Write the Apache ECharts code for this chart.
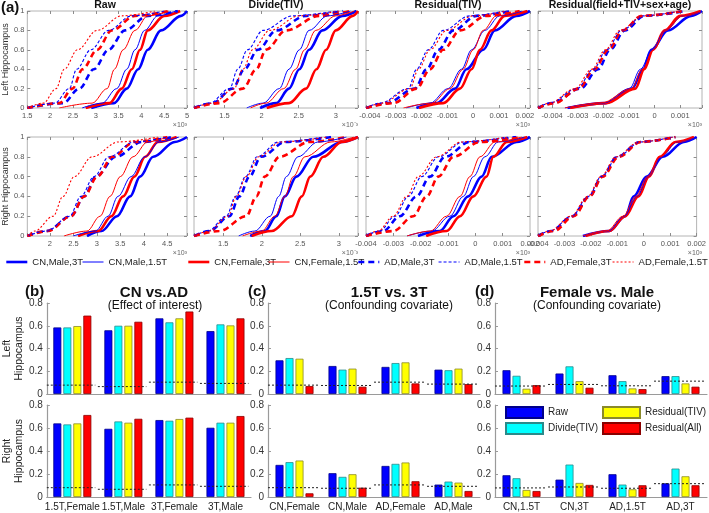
<!DOCTYPE html>
<html><head><meta charset="utf-8">
<script src="https://cdn.jsdelivr.net/npm/echarts@6/dist/echarts.min.js"></script>
<style>html,body{margin:0;padding:0;background:#fff}#c{width:709px;height:513px}</style>
</head><body><div id="c"></div>
<script>
// ---------- CDF curves: x value read at each cumulative level ----------
const cdfLevels = [0, 0.05, 0.2, 0.4, 0.6, 0.8, 0.95, 1];
const groupNames = ['CN,Male,3T','CN,Male,1.5T','CN,Female,3T','CN,Female,1.5T','AD,Male,3T','AD,Male,1.5T','AD,Female,3T','AD,Female,1.5T'];

const rawLeft = [
  [2.9, 3.4, 3.68, 3.93, 4.14, 4.43, 4.87, 5.0],
  [2.7, 3.14, 3.46, 3.68, 3.86, 4.07, 4.36, 4.75],
  [2.78, 3.3, 3.57, 3.79, 3.97, 4.14, 4.5, 4.85],
  [2.2, 2.92, 3.25, 3.41, 3.6, 3.86, 4.14, 4.6],
  [1.5, 2.28, 2.64, 2.96, 3.28, 3.64, 4.14, 4.8],
  [1.5, 2.1, 2.42, 2.58, 2.89, 3.28, 3.79, 4.5],
  [1.5, 2.2, 2.49, 2.71, 3.03, 3.35, 3.86, 4.6],
  [1.5, 1.85, 2.13, 2.31, 2.6, 3.03, 3.57, 4.3]
];
const divLeft = [
  [1.98, 2.2, 2.37, 2.51, 2.64, 2.82, 3.09, 3.28],
  [1.8, 2.02, 2.24, 2.37, 2.51, 2.64, 2.89, 3.2],
  [2.07, 2.37, 2.6, 2.74, 2.87, 3.0, 3.23, 3.3],
  [1.85, 2.06, 2.3, 2.46, 2.58, 2.73, 3.0, 3.25],
  [1.09, 1.34, 1.61, 1.77, 1.95, 2.2, 2.6, 3.1],
  [1.09, 1.3, 1.57, 1.68, 1.81, 2.02, 2.42, 3.0],
  [1.09, 1.43, 1.75, 1.93, 2.06, 2.33, 2.78, 3.2],
  [1.09, 1.34, 1.63, 1.75, 1.88, 2.11, 2.51, 3.05]
];
const resTivLeft = [
  [-0.0022, -0.00142, -0.0007, -0.00026, 0.00039, 0.00084, 0.00167, 0.0022],
  [-0.0026, -0.00167, -0.00097, -0.00045, -0.00006, 0.00045, 0.00103, 0.0019],
  [-0.0021, -0.00116, -0.00051, -0.00006, 0.00026, 0.00071, 0.00122, 0.0021],
  [-0.0027, -0.0016, -0.0009, -0.00039, 0, 0.00039, 0.0009, 0.0018],
  [-0.00415, -0.00335, -0.00226, -0.0018, -0.00135, -0.00077, 0.00013, 0.0015],
  [-0.00415, -0.0036, -0.00251, -0.00219, -0.00174, -0.00116, -0.00013, 0.0012],
  [-0.00415, -0.00309, -0.00219, -0.00167, -0.00116, -0.00051, 0.00052, 0.0018],
  [-0.00415, -0.00353, -0.00245, -0.00212, -0.00167, -0.00103, 0, 0.0013]
];
const resAllLeft = [
  [-0.0034, -0.0019, -0.00088, -0.00045, -0.00013, 0.00052, 0.00143, 0.00185],
  [-0.0035, -0.002, -0.00098, -0.00055, -0.0001, 0.00042, 0.0011, 0.00185],
  [-0.0033, -0.0019, -0.00075, -0.0004, -0.00006, 0.00039, 0.001, 0.0018],
  [-0.0035, -0.0021, -0.0009, -0.00048, -0.00003, 0.00042, 0.0011, 0.0018],
  [-0.00455, -0.004, -0.0029, -0.0022, -0.00174, -0.00116, -0.0004, 0.0012],
  [-0.00455, -0.0041, -0.00303, -0.00239, -0.00187, -0.00129, -0.00045, 0.001],
  [-0.00455, -0.0039, -0.00296, -0.00235, -0.0018, -0.00125, -0.0005, 0.0011],
  [-0.00455, -0.0041, -0.0031, -0.00245, -0.00192, -0.00135, -0.00045, 0.001]
];
const rawRight = [
  [2.79, 3.1, 3.43, 3.71, 3.92, 4.2, 4.66, 4.92],
  [2.5, 2.97, 3.24, 3.45, 3.73, 4.02, 4.33, 4.75],
  [2.6, 3.03, 3.31, 3.56, 3.8, 4.03, 4.3, 4.7],
  [2.3, 2.79, 3.07, 3.28, 3.5, 3.77, 4.08, 4.5],
  [1.52, 1.93, 2.45, 2.73, 2.98, 3.4, 3.96, 4.6],
  [1.52, 1.93, 2.42, 2.66, 2.94, 3.26, 3.8, 4.5],
  [1.52, 1.96, 2.45, 2.73, 3.01, 3.33, 3.8, 4.5],
  [1.52, 1.68, 2.07, 2.28, 2.52, 2.9, 3.46, 4.3]
];
const divRight = [
  [1.85, 2.04, 2.19, 2.3, 2.45, 2.67, 3.04, 3.25],
  [1.7, 1.91, 2.11, 2.22, 2.32, 2.47, 2.73, 3.1],
  [1.87, 2.13, 2.39, 2.52, 2.63, 2.8, 3.04, 3.25],
  [1.75, 2.0, 2.17, 2.3, 2.41, 2.56, 2.9, 3.2],
  [1.12, 1.32, 1.58, 1.71, 1.84, 1.99, 2.31, 2.9],
  [1.12, 1.3, 1.54, 1.66, 1.79, 1.94, 2.22, 2.8],
  [1.12, 1.45, 1.8, 1.93, 2.04, 2.23, 2.62, 3.1],
  [1.12, 1.32, 1.56, 1.67, 1.8, 1.96, 2.25, 2.85]
];
const resTivRight = [
  [-0.0021, -0.0013, -0.0008, -0.00026, 0.00023, 0.0006, 0.00151, 0.002],
  [-0.0025, -0.0016, -0.00093, -0.00044, -0.00007, 0.00035, 0.00084, 0.0018],
  [-0.0018, -0.00105, -0.00056, -0.00007, 0.00041, 0.00066, 0.00115, 0.0019],
  [-0.0025, -0.00165, -0.00105, -0.00056, -0.0002, 0.00017, 0.00072, 0.0017],
  [-0.004, -0.00337, -0.00276, -0.00215, -0.00166, -0.00111, -0.0002, 0.0015],
  [-0.004, -0.0035, -0.00294, -0.00245, -0.00196, -0.00135, -0.00044, 0.0012],
  [-0.004, -0.003, -0.00227, -0.00178, -0.00135, -0.0008, 0.00017, 0.0017],
  [-0.004, -0.00356, -0.003, -0.00251, -0.00209, -0.00141, -0.0005, 0.0012]
];
const resAllRight = [
  [-0.0023, -0.0013, -0.0007, -0.00038, 0.00011, 0.00072, 0.00152, 0.002],
  [-0.0023, -0.00135, -0.00074, -0.00026, 0.00017, 0.00066, 0.00127, 0.002],
  [-0.0022, -0.0013, -0.0007, -0.0002, 0.0002, 0.0006, 0.0012, 0.0019],
  [-0.0023, -0.0014, -0.00078, -0.0003, 0.00015, 0.00063, 0.00125, 0.0019],
  [-0.004, -0.0035, -0.0027, -0.00205, -0.00158, -0.001, -0.00015, 0.0012],
  [-0.004, -0.00355, -0.00272, -0.0021, -0.0016, -0.00099, -0.00013, 0.0011],
  [-0.004, -0.0034, -0.00265, -0.00205, -0.00155, -0.00095, -0.0001, 0.0012],
  [-0.004, -0.00355, -0.00275, -0.00212, -0.00162, -0.00105, -0.00018, 0.0011]
];

// ---------- Bar charts ----------
const barMethods = ['Raw', 'Divide(TIV)', 'Residual(TIV)', 'Residual(All)'];
const catsB = ['1.5T,Female', '1.5T,Male', '3T,Female', '3T,Male'];
const catsC = ['CN,Female', 'CN,Male', 'AD,Female', 'AD,Male'];
const catsD = ['CN,1.5T', 'CN,3T', 'AD,1.5T', 'AD,3T'];
// rows: Raw, Divide(TIV), Residual(TIV), Residual(All)
const bLeft  = [[0.585, 0.56, 0.665, 0.553], [0.585, 0.6, 0.63, 0.612], [0.597, 0.6, 0.665, 0.603], [0.689, 0.635, 0.725, 0.665]];
const bRight = [[0.64, 0.593, 0.669, 0.602], [0.631, 0.657, 0.663, 0.646], [0.64, 0.646, 0.678, 0.646], [0.713, 0.68, 0.69, 0.704]];
const cLeft  = [[0.296, 0.246, 0.238, 0.214], [0.316, 0.214, 0.272, 0.209], [0.31, 0.223, 0.278, 0.223], [0.07, 0.064, 0.093, 0.087]];
const cRight = [[0.279, 0.207, 0.27, 0.108], [0.303, 0.175, 0.288, 0.134], [0.317, 0.198, 0.3, 0.125], [0.032, 0.081, 0.137, 0.052]];
const dLeft  = [[0.209, 0.18, 0.165, 0.157], [0.16, 0.243, 0.113, 0.157], [0.046, 0.113, 0.049, 0.093], [0.078, 0.055, 0.043, 0.064]];
const dRight = [[0.189, 0.151, 0.198, 0.119], [0.163, 0.282, 0.108, 0.247], [0.061, 0.122, 0.067, 0.18], [0.052, 0.105, 0.102, 0.102]];
const bLeftThr  = [0.078, 0.065, 0.104, 0.093];
const bRightThr = [0.081, 0.067, 0.105, 0.093];
const cLeftThr  = [0.078, 0.075, 0.104, 0.087];
const cRightThr = [0.081, 0.076, 0.105, 0.093];
const dLeftThr  = [0.07, 0.084, 0.072, 0.113];
const dRightThr = [0.079, 0.087, 0.076, 0.116];

// ---------- styling ----------
const FONT = 'Liberation Sans, Arial, sans-serif';
const BLUE = '#0000ff', RED = '#ff0000';
const lineStyles = [
  {color: BLUE, width: 2.6, type: 'solid'},
  {color: BLUE, width: 1, type: 'solid'},
  {color: RED, width: 2.6, type: 'solid'},
  {color: RED, width: 1, type: 'solid'},
  {color: BLUE, width: 2.6, type: [6, 4]},
  {color: BLUE, width: 1.1, type: [3, 2]},
  {color: RED, width: 2.6, type: [6, 4]},
  {color: RED, width: 1.1, type: [2, 2]}
];
const barColors = ['#0000ff', '#00ffff', '#ffff00', '#ff0000'];
const barBorders = ['#00008a', '#2a8a8a', '#8a8a2a', '#8a0000'];

const option = {animation: false, grid: [], xAxis: [], yAxis: [], series: [], legend: [], graphic: []};

const colLeft = [23, 194, 366, 538];
const panelW = 164;
const rowTop = [11, 137], rowH = [97, 99];
const linePanels = [
  {data: rawLeft, row: 0, col: 0, min: 1.5, max: 5, split: 7, step: 0.5, exp: '×10³'},
  {data: divLeft, row: 0, col: 1, min: 1.09, max: 3.3, split: 5, step: 0.5, exp: '×10⁻³'},
  {data: resTivLeft, row: 0, col: 2, min: -0.00415, max: 0.0022, split: 6, step: 0.001, exp: '×10³'},
  {data: resAllLeft, row: 0, col: 3, min: -0.00455, max: 0.00185, split: 6, step: 0.001, exp: '×10³'},
  {data: rawRight, row: 1, col: 0, min: 1.52, max: 4.92, split: 7, step: 0.5, exp: '×10³'},
  {data: divRight, row: 1, col: 1, min: 1.12, max: 3.25, split: 5, step: 0.5, exp: '×10⁻³'},
  {data: resTivRight, row: 1, col: 2, min: -0.004, max: 0.002, split: 6, step: 0.001, exp: '×10³'},
  {data: resAllRight, row: 1, col: 3, min: -0.004, max: 0.002, split: 6, step: 0.001, exp: '×10³'}
];

const tickGray = '#8c8c8c';
linePanels.forEach(p => {
  const left = colLeft[p.col], top = rowTop[p.row], h = rowH[p.row];
  option.grid.push({left, top, width: panelW, height: h, show: true, borderColor: '#b4b4b4', borderWidth: 1, backgroundColor: '#fff'});
  const gi = option.grid.length - 1;
  const fmt = v => {
    const q = v / p.step;
    if (Math.abs(q - Math.round(q)) > 1e-6) return '';
    const r = Math.round(q) * p.step;
    return String(parseFloat(r.toFixed(4)));
  };
  const xi = option.xAxis.length;
  option.xAxis.push({type: 'value', gridIndex: gi, min: p.min, max: p.max, splitNumber: p.split,
    axisLine: {show: false, onZero: false}, splitLine: {show: false},
    axisTick: {inside: true, length: 3, lineStyle: {color: tickGray}},
    axisLabel: {fontSize: 7.5, color: '#555', margin: 4, fontFamily: FONT, formatter: fmt, showMinLabel: true, showMaxLabel: true}});
  option.xAxis.push({type: 'value', gridIndex: gi, position: 'top', min: p.min, max: p.max, splitNumber: p.split,
    axisLine: {show: false, onZero: false}, splitLine: {show: false}, axisLabel: {show: false},
    axisTick: {inside: true, length: 3, lineStyle: {color: tickGray}}});
  const yi = option.yAxis.length;
  option.yAxis.push({type: 'value', gridIndex: gi, position: 'left', min: 0, max: 1, interval: 0.2,
    axisLine: {show: false, onZero: false}, splitLine: {show: false},
    axisTick: {inside: true, length: 3, lineStyle: {color: tickGray}},
    axisLabel: {show: p.col === 0, fontSize: 7.5, color: '#555', margin: 3, fontFamily: FONT},
    name: p.col === 0 ? (p.row === 0 ? 'Left Hippocampus' : 'Right Hippocampus') : '',
    nameLocation: 'middle', nameGap: 12, nameTextStyle: {fontSize: 9, color: '#333', fontFamily: FONT}});
  option.yAxis.push({type: 'value', gridIndex: gi, position: 'right', min: 0, max: 1, interval: 0.2,
    axisLine: {show: false, onZero: false}, splitLine: {show: false}, axisLabel: {show: false},
    axisTick: {inside: true, length: 3, lineStyle: {color: tickGray}}});
  p.data.forEach((xs, g) => {
    option.series.push({type: 'line', name: groupNames[g], xAxisIndex: xi, yAxisIndex: yi,
      data: cdfLevels.map((lv, i) => [xs[i], lv]), symbol: 'none', showSymbol: false,
      smooth: 0.35, smoothMonotone: 'x', lineStyle: lineStyles[g], itemStyle: {color: lineStyles[g].color},
      z: 3 + (g % 2)});
  });
  option.graphic.push({type: 'text', x: left + panelW, y: top + h + 17,
    style: {text: p.exp, font: '7px ' + FONT, fill: '#666', align: 'right', verticalAlign: 'middle', textAlign: 'right', textVerticalAlign: 'middle'}});
});

// line-panel titles
const lineTitles = ['Raw', 'Divide(TIV)', 'Residual(TIV)', 'Residual(field+TIV+sex+age)'];
lineTitles.forEach((t, c) => option.graphic.push({type: 'text', x: colLeft[c] + panelW / 2, y: 5,
  style: {text: t, font: 'bold 10.5px ' + FONT, fill: '#111', align: 'center', verticalAlign: 'middle', textAlign: 'center', textVerticalAlign: 'middle'}}));
option.graphic.push({type: 'text', x: 1, y: 8,
  style: {text: '(a)', font: 'bold 15px ' + FONT, fill: '#111', align: 'left', verticalAlign: 'middle', textAlign: 'left', textVerticalAlign: 'middle'}});

// line legend (one per item for placement; default 5px padding)
const lineLegendX = [0, 77, 182, 263, 352, 433, 518, 607];
groupNames.forEach((n, i) => option.legend.push({data: [n], left: lineLegendX[i], top: 252, itemWidth: 21, itemHeight: 10, itemGap: 0,
  itemStyle: {opacity: 0}, lineStyle: {width: 'inherit', type: 'inherit'},
  textStyle: {fontSize: 9.5, color: '#222', fontFamily: FONT}, selectedMode: false}));

// ---------- bar panels ----------
const barCols = [39, 268, 495];
const barRowTop = [303, 405], barRowH = [91, 92];
const barPanels = [
  {vals: bLeft, thr: bLeftThr, cats: catsB, row: 0, col: 0},
  {vals: cLeft, thr: cLeftThr, cats: catsC, row: 0, col: 1},
  {vals: dLeft, thr: dLeftThr, cats: catsD, row: 0, col: 2},
  {vals: bRight, thr: bRightThr, cats: catsB, row: 1, col: 0},
  {vals: cRight, thr: cRightThr, cats: catsC, row: 1, col: 1},
  {vals: dRight, thr: dRightThr, cats: catsD, row: 1, col: 2}
];
const axisGray = '#9a9a9a';
barPanels.forEach(p => {
  option.grid.push({left: barCols[p.col], top: barRowTop[p.row], width: 212, height: barRowH[p.row], show: false});
  const gi = option.grid.length - 1;
  const xi = option.xAxis.length;
  option.xAxis.push({type: 'category', gridIndex: gi, data: p.cats,
    axisLine: {lineStyle: {color: axisGray, width: 1.2}}, axisTick: {show: false},
    axisLabel: {show: p.row === 1, interval: 0, fontSize: 10, color: '#222', margin: 5, fontFamily: FONT}});
  const xv = option.xAxis.length;
  option.xAxis.push({type: 'value', gridIndex: gi, min: 0.5, max: 4.5, show: false});
  const yi = option.yAxis.length;
  option.yAxis.push({type: 'value', gridIndex: gi, min: 0, max: 0.8, interval: 0.2,
    axisLine: {show: true, onZero: false, lineStyle: {color: axisGray, width: 1.2}}, splitLine: {show: false},
    axisTick: {show: true, inside: true, length: 3, lineStyle: {color: axisGray}},
    axisLabel: {fontSize: 10, color: '#333', margin: 4, fontFamily: FONT},
    name: p.col === 0 ? (p.row === 0 ? 'Left\nHippocampus' : 'Right\nHippocampus') : '',
    nameLocation: 'middle', nameGap: 18, nameTextStyle: {fontSize: 10.5, color: '#222', fontFamily: FONT, lineHeight: 12}});
  barMethods.forEach((m, k) => option.series.push({type: 'bar', name: m, xAxisIndex: xi, yAxisIndex: yi,
    data: p.vals[k], barWidth: 8, barGap: '25%',
    itemStyle: {color: barColors[k], borderColor: barBorders[k], borderWidth: 0.8}}));
  const thrData = [];
  p.thr.forEach((t, i) => { thrData.push([i + 0.5, t], [i + 1.45, t], [i + 1.47, '-']); });
  option.series.push({type: 'line', name: 'threshold', xAxisIndex: xv, yAxisIndex: yi, data: thrData,
    symbol: 'none', connectNulls: false, lineStyle: {color: '#222', width: 1, type: [2, 2]}, z: 5, silent: true});
});

// bar legend
const barLegendPos = [[505, 406], [505, 422], [602, 406], [602, 422]];
barMethods.forEach((m, k) => option.legend.push({data: [m], left: barLegendPos[k][0], top: barLegendPos[k][1],
  icon: 'rect', itemWidth: 37, itemHeight: 11, padding: 0, textStyle: {fontSize: 10, color: '#222', fontFamily: FONT}, selectedMode: false}));

// section titles for bar panels
function txt(t, x, y, font, align) {
  option.graphic.push({type: 'text', x, y, style: {text: t, font, fill: '#111', align: align || 'center', verticalAlign: 'middle', textAlign: align || 'center', textVerticalAlign: 'middle'}});
}
txt('(b)', 25, 292, 'bold 15px ' + FONT, 'left');
txt('CN vs.AD', 154, 293, 'bold 15px ' + FONT);
txt('(Effect of interest)', 155, 306, '12px ' + FONT);
txt('(c)', 248, 292, 'bold 15px ' + FONT, 'left');
txt('1.5T vs. 3T', 389, 293, 'bold 15px ' + FONT);
txt('(Confounding covariate)', 389, 306, '12px ' + FONT);
txt('(d)', 475, 292, 'bold 15px ' + FONT, 'left');
txt('Female vs. Male', 597, 293, 'bold 15px ' + FONT);
txt('(Confounding covariate)', 597, 306, '12px ' + FONT);

const chart = echarts.init(document.getElementById('c'), null, {renderer: 'canvas'});
chart.setOption(option);
</script></body></html>
